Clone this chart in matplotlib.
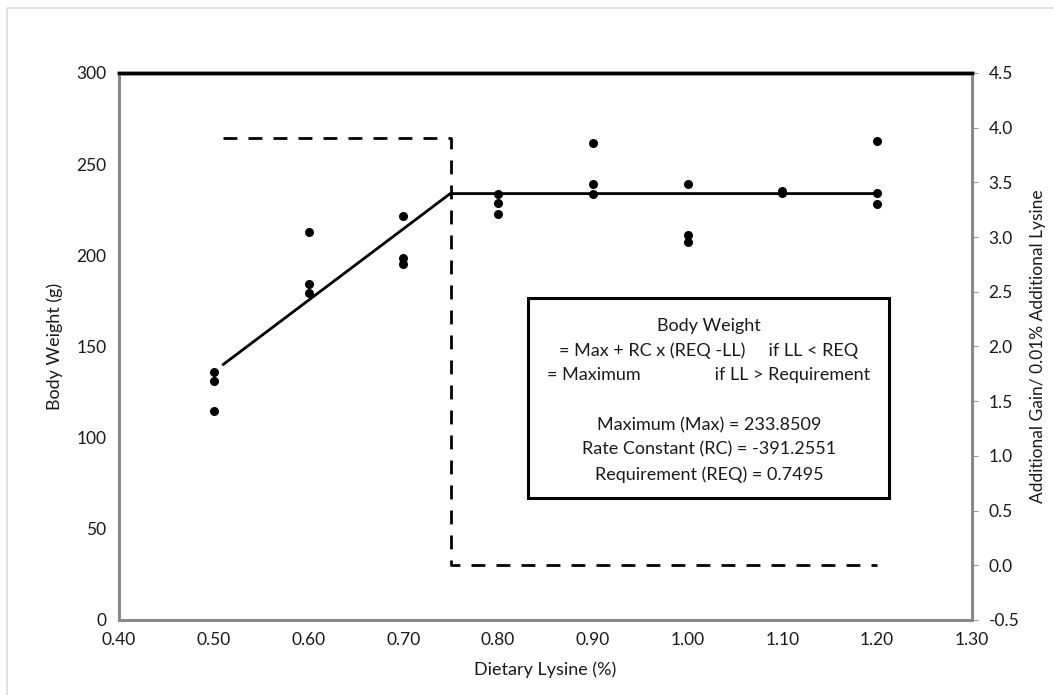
import numpy as np
import matplotlib.pyplot as plt
from matplotlib.patches import Rectangle

plt.rcParams['font.family'] = ['Lato', 'DejaVu Sans']

# Observed body weights by dietary lysine level
lysine = [0.50, 0.50, 0.50,
          0.60, 0.60, 0.60,
          0.70, 0.70, 0.70,
          0.80, 0.80, 0.80,
          0.90, 0.90, 0.90,
          1.00, 1.00, 1.00,
          1.10, 1.10,
          1.20, 1.20, 1.20]
body_weight = [136, 131, 114.5,
               213, 184, 179.5,
               221.5, 198.5, 195,
               233.5, 228.5, 222.5,
               261.5, 239, 233.5,
               239, 211, 207.5,
               235.5, 234,
               262.5, 234, 228]

# Broken-line fit
fit_x = [0.51, 0.7495, 1.20]
fit_y = [140.15, 233.8509, 233.8509]

# Additional gain per 0.01% additional lysine (right axis)
gain_x = [0.51, 0.75, 0.75, 1.20]
gain_y = [3.91, 3.91, 0.0, 0.0]

box_lines = ["Body Weight",
             "= Max + RC x (REQ -LL)     if LL < REQ",
             "= Maximum                if LL > Requirement",
             "",
             "Maximum (Max) = 233.8509",
             "Rate Constant (RC) = -391.2551",
             "Requirement (REQ) = 0.7495"]

fig = plt.figure(figsize=(10.54, 6.95), dpi=100)
ax = fig.add_axes([0.113, 0.108, 0.809, 0.787])
ax2 = ax.twinx()

ax.scatter(lysine, body_weight, s=30, color='black', zorder=3)
ax.plot(fit_x, fit_y, color='black', lw=2)
ax2.plot(gain_x, gain_y, color='black', lw=2, dashes=(5, 4))

ax.set_xlim(0.40, 1.30)
ax.set_ylim(0, 300)
ax2.set_ylim(-0.5, 4.5)
ax.set_xticks(np.arange(0.40, 1.31, 0.10))
ax.set_xticklabels([f"{v:.2f}" for v in np.arange(0.40, 1.31, 0.10)])
ax.set_yticks(range(0, 301, 50))
ax2.set_yticks(np.arange(-0.5, 4.51, 0.5))
ax2.set_yticklabels([f"{v:.1f}" for v in np.arange(-0.5, 4.51, 0.5)])

ax.tick_params(axis='both', length=0, labelsize=12.5, pad=9, colors='#1a1a1a')
ax2.tick_params(axis='y', length=4, color='#999999', labelsize=12.5, pad=8, labelcolor='#1a1a1a')

for a in (ax, ax2):
    for side in ('left', 'bottom', 'right'):
        a.spines[side].set_color('#888888')
        a.spines[side].set_linewidth(2)
    a.spines['top'].set_color('black')
    a.spines['top'].set_linewidth(2.5)

ax.set_xlabel('Dietary Lysine (%)', fontsize=13, labelpad=9, color='#1a1a1a')
ax.set_ylabel('Body Weight (g)', fontsize=13, labelpad=10, color='#1a1a1a')
ax2.set_ylabel('Additional Gain/ 0.01% Additional Lysine', fontsize=12.5, labelpad=8,
               color='#1a1a1a')

# Equation box
ax.add_patch(Rectangle((0.832, 67), 0.381, 109.5, fill=False, lw=2.2,
                       edgecolor='black', zorder=4))
for i, line in enumerate(box_lines):
    ax.text(1.0225, 161.3 - i * 13.6, line, ha='center', va='center',
            fontsize=13, color='#1a1a1a', zorder=5)

fig.patches.append(Rectangle((0.007, -0.01), 1.0, 0.999, transform=fig.transFigure,
                             fill=False, edgecolor='#dddddd', lw=1.2))

fig.savefig('out.png', dpi=100)
